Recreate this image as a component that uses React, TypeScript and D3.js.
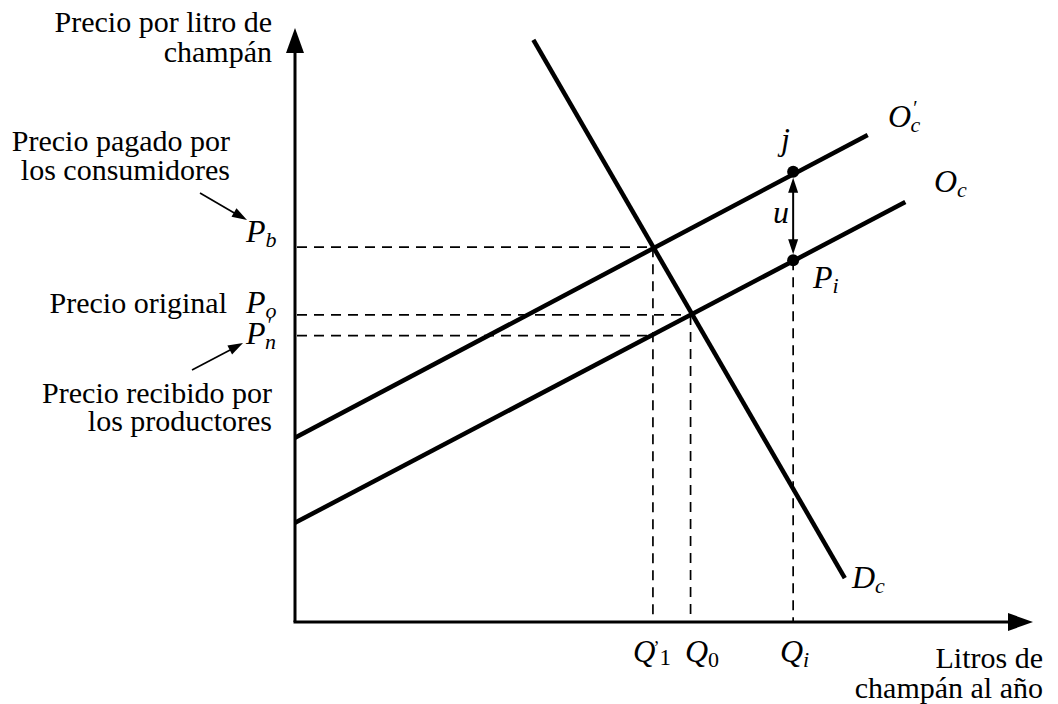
import React from "react";
import * as d3 from "d3";

// Curves (quantity, price) in chart units
const supplyOriginal = [
  { q: 0, p: 16.7 },
  { q: 82.7, p: 70.7 },
];
const supplyTaxed = [
  { q: 0, p: 31.0 },
  { q: 77.6, p: 82.0 },
];
const demand = [
  { q: 32.3, p: 98.0 },
  { q: 74.5, p: 7.4 },
];

// Reference quantities and prices
const qTax = 48.5;
const qOriginal = 53.6;
const qI = 67.5;
const pBuyer = 63.1;
const pOriginal = 51.7;
const pSeller = 48.2;
const pointJ = { q: 67.5, p: 75.8 };
const pointPi = { q: 67.5, p: 60.9 };

const FONT = "'Liberation Serif', 'Times New Roman', serif";

function arrowHead(x1: number, y1: number, x2: number, y2: number, len: number, hw: number) {
  const dx = x2 - x1;
  const dy = y2 - y1;
  const d = Math.sqrt(dx * dx + dy * dy);
  const ux = dx / d;
  const uy = dy / d;
  const bx = x2 - ux * len;
  const by = y2 - uy * len;
  const nx = -uy;
  const ny = ux;
  return `${x2},${y2} ${bx + nx * hw},${by + ny * hw} ${bx - nx * hw},${by - ny * hw}`;
}

function Sym({
  x,
  y,
  main,
  sub,
  prime,
  subItalic = true,
  primeInline,
}: {
  x: number;
  y: number;
  main: string;
  sub: string;
  prime?: boolean;
  subItalic?: boolean;
  primeInline?: boolean;
}) {
  const subStyle = subItalic ? "italic" : "normal";
  if (primeInline) {
    return (
      <text x={x} y={y} fontSize={31} fontStyle="italic" fontFamily={FONT}>
        {main}
        <tspan fontSize={18} fontStyle="normal" dx={-2} dy={-8}>
          ’
        </tspan>
        <tspan fontSize={23} fontStyle="normal" dy={11}>
          {sub}
        </tspan>
      </text>
    );
  }
  if (prime) {
    return (
      <text x={x} y={y} fontSize={32} fontStyle="italic" fontFamily={FONT}>
        {main}
        <tspan fontSize={20} dx={1} dy={-12}>
          ′
        </tspan>
        <tspan fontSize={22} fontStyle={subStyle} dx={-6} dy={17}>
          {sub}
        </tspan>
      </text>
    );
  }
  return (
    <text x={x} y={y} fontSize={32} fontStyle="italic" fontFamily={FONT}>
      {main}
      <tspan fontSize={22} fontStyle={subStyle} dy={5}>
        {sub}
      </tspan>
    </text>
  );
}

function Lines({ x, y, lines, size = 30, lh = 29 }: { x: number; y: number; lines: string[]; size?: number; lh?: number }) {
  return (
    <text x={x} y={y} fontSize={size} fontFamily={FONT} textAnchor="end">
      {lines.map((l, i) => (
        <tspan key={i} x={x} dy={i === 0 ? 0 : lh}>
          {l}
        </tspan>
      ))}
    </text>
  );
}

export default function App() {
  const x = d3.scaleLinear().domain([0, 100]).range([295, 1033]);
  const y = d3.scaleLinear().domain([0, 100]).range([622, 28]);
  const line = d3
    .line<{ q: number; p: number }>()
    .x((d) => x(d.q))
    .y((d) => y(d.p));

  const dash = "10 7";
  const ox = x(0);
  const oy = y(0);

  const jx = x(pointJ.q);
  const jy = y(pointJ.p);
  const px = x(pointPi.q);
  const py = y(pointPi.p);

  return (
    <svg
      width={1058}
      height={704}
      style={{ position: "absolute", left: 0, top: 0, background: "#fff" }}
    >
      {/* dashed guides */}
      <g stroke="#000" strokeWidth={1.7} strokeDasharray={dash} fill="none">
        <line x1={ox + 2} y1={y(pBuyer)} x2={x(qTax)} y2={y(pBuyer)} />
        <line x1={x(qTax)} y1={y(pBuyer)} x2={x(qTax)} y2={oy} />
        <line x1={ox + 2} y1={y(pOriginal)} x2={x(qOriginal)} y2={y(pOriginal)} />
        <line x1={x(qOriginal)} y1={y(pOriginal)} x2={x(qOriginal)} y2={oy} />
        <line x1={ox + 2} y1={y(pSeller)} x2={x(qTax)} y2={y(pSeller)} />
        <line x1={x(qI)} y1={py} x2={x(qI)} y2={oy} />
      </g>

      {/* curves */}
      <g stroke="#000" strokeWidth={4.5} fill="none">
        <path d={line(supplyOriginal) || ""} />
        <path d={line(supplyTaxed) || ""} />
        <path d={line(demand) || ""} />
      </g>

      {/* axes */}
      <g stroke="#000" strokeWidth={3} fill="none">
        <line x1={ox} y1={oy} x2={ox} y2={y(100) + 15} />
        <line x1={ox - 1.5} y1={oy} x2={x(100) - 15} y2={oy} />
      </g>
      <polygon points={arrowHead(ox, oy, ox, y(100), 25, 9)} fill="#000" />
      <polygon points={arrowHead(ox, oy, x(100), oy, 25, 9)} fill="#000" />

      {/* points j and Pi, tax wedge arrow */}
      <circle cx={jx} cy={jy} r={6} fill="#000" />
      <circle cx={px} cy={py} r={6} fill="#000" />
      <line x1={jx} y1={jy + 14} x2={px} y2={py - 14} stroke="#000" strokeWidth={2} />
      <polygon points={arrowHead(px, py, jx, jy + 6, 15, 5)} fill="#000" />
      <polygon points={arrowHead(jx, jy, px, py - 6, 15, 5)} fill="#000" />

      {/* text labels */}
      <Lines x={272} y={32} lines={["Precio por litro de", "champán"]} lh={30} />
      <Lines x={230} y={151} lines={["Precio pagado por", "los consumidores"]} />
      <Lines x={227} y={313} lines={["Precio original"]} />
      <Lines x={272} y={403} lines={["Precio recibido por", "los productores"]} lh={28} />
      <Lines x={1043} y={668} lines={["Litros de", "champán al año"]} lh={30} />

      {/* annotation arrows */}
      <line x1={200} y1={193} x2={236} y2={214} stroke="#000" strokeWidth={1.6} />
      <polygon points={arrowHead(200, 193, 247, 220, 15, 5)} fill="#000" />
      <line x1={192} y1={370} x2={232} y2={349} stroke="#000" strokeWidth={1.6} />
      <polygon points={arrowHead(192, 370, 243, 343, 15, 5)} fill="#000" />

      {/* math symbols */}
      <Sym x={246} y={y(pBuyer) - 5} main="P" sub="b" />
      <Sym x={246} y={y(pOriginal) - 2} main="P" sub="o" />
      <Sym x={246} y={y(pSeller) + 8} main="P" sub="n" prime />
      <Sym x={633} y={662} main="Q" sub="1" primeInline subItalic={false} />
      <Sym x={685} y={662} main="Q" sub="0" subItalic={false} />
      <Sym x={780} y={662} main="Q" sub="i" />
      <Sym x={888} y={127} main="O" sub="c" prime />
      <Sym x={934} y={192} main="O" sub="c" />
      <Sym x={813} y={288} main="P" sub="i" />
      <Sym x={852} y={588} main="D" sub="c" />
      <text x={781} y={150} fontSize={32} fontStyle="italic" fontFamily={FONT}>
        j
      </text>
      <text x={773} y={223} fontSize={32} fontStyle="italic" fontFamily={FONT}>
        u
      </text>
    </svg>
  );
}
